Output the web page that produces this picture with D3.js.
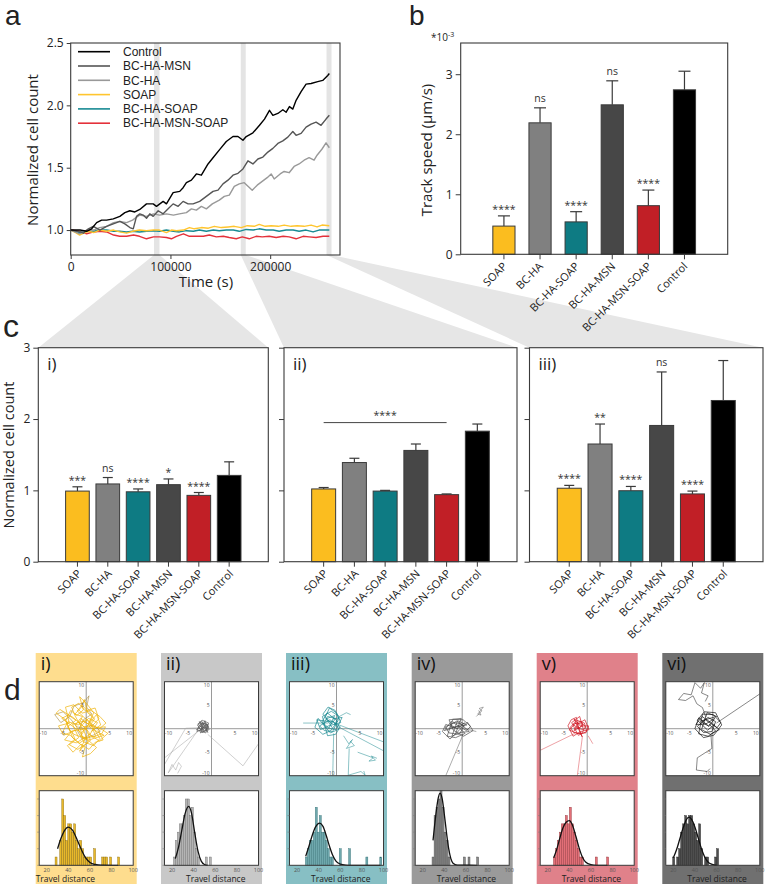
<!DOCTYPE html>
<html>
<head>
<meta charset="utf-8">
<script src="https://cdn.jsdelivr.net/npm/d3@7"></script>
<style>
  body { margin: 0; background: #fff; }
  svg { display: block; }
  text { font-family: "Open Sans", sans-serif; fill: #222; }
</style>
</head>
<body>
<div id="fig"></div>
<script>
// ---------- data ----------
var groups = ["SOAP", "BC-HA", "BC-HA-SOAP", "BC-HA-MSN", "BC-HA-MSN-SOAP", "Control"];
var groupColors = ["#fbbd1f", "#808080", "#0e7b83", "#474747", "#c11f26", "#000000"];

// panel a: normalized cell count over time (s)
var legendNames = ["Control", "BC-HA-MSN", "BC-HA", "SOAP", "BC-HA-SOAP", "BC-HA-MSN-SOAP"];
var legendColors = ["#000000", "#555555", "#999999", "#ffc52e", "#188a93", "#e4313a"];
var controlCount = [[0,1.0],[9300,1.0],[16000,0.99],[21000,1.01],[26000,1.06],[31000,1.08],[36000,1.08],[42700,1.09],[49300,1.11],[54300,1.14],[59300,1.155],[64300,1.145],[69300,1.165],[76000,1.21],[82700,1.21],[86000,1.19],[92700,1.23],[96000,1.21],[102700,1.30],[109300,1.31],[112700,1.34],[116000,1.38],[121000,1.40],[126000,1.45],[131000,1.44],[137700,1.53],[142700,1.58],[149300,1.645],[156000,1.71],[162700,1.75],[167700,1.75],[172700,1.72],[176000,1.75],[182700,1.78],[189300,1.84],[194300,1.89],[199300,1.96],[202700,1.92],[207700,1.935],[212700,1.965],[216000,1.945],[219300,1.99],[222700,1.97],[226000,2.04],[231000,2.11],[236000,2.17],[241000,2.175],[247700,2.19],[252700,2.20],[257700,2.24],[259300,2.255]];
var msnCount = [[0,1.0],[9300,0.985],[12700,0.975],[17700,1.01],[22700,1.03],[29300,1.0],[36000,1.03],[42700,1.05],[49300,1.07],[54300,1.05],[59300,1.02],[62700,1.01],[66000,1.11],[69300,1.13],[72700,1.12],[76000,1.095],[79300,1.13],[82700,1.11],[87700,1.155],[92700,1.13],[97700,1.17],[102700,1.21],[107700,1.19],[112700,1.23],[117700,1.21],[122700,1.21],[129300,1.23],[136000,1.27],[142700,1.31],[147700,1.32],[152700,1.37],[157700,1.40],[162700,1.44],[167700,1.455],[172700,1.49],[177700,1.555],[182700,1.53],[187700,1.57],[192700,1.585],[197700,1.625],[202700,1.655],[207700,1.695],[212700,1.715],[217700,1.745],[222700,1.79],[226000,1.76],[231000,1.775],[236000,1.825],[241000,1.85],[246000,1.865],[251000,1.84],[256000,1.89],[259300,1.92]];
var haCount = [[0,1.0],[9000,0.97],[16000,1.0],[23000,1.0],[29000,1.02],[36000,1.03],[43000,1.06],[49000,1.07],[56000,1.06],[62000,1.08],[69000,1.12],[76000,1.11],[83000,1.13],[89000,1.12],[96000,1.13],[103000,1.12],[109000,1.13],[116000,1.14],[121000,1.17],[126000,1.16],[131000,1.19],[136000,1.17],[142000,1.21],[149000,1.24],[154000,1.27],[159000,1.28],[164000,1.35],[169000,1.37],[174000,1.38],[178000,1.35],[182000,1.32],[187000,1.36],[192000,1.39],[197000,1.42],[201000,1.45],[204000,1.41],[210000,1.45],[214000,1.47],[219000,1.46],[224000,1.51],[229000,1.53],[234000,1.56],[239000,1.58],[244000,1.56],[247000,1.60],[252000,1.65],[256000,1.70],[259300,1.66]];
var soapCount = [[0,1.0],[5000,0.98],[9000,0.96],[13000,0.975],[18000,0.99],[23000,0.98],[29000,1.0],[36000,0.99],[43000,1.0],[49000,0.985],[56000,0.975],[62000,0.99],[69000,1.0],[76000,0.995],[83000,1.0],[89000,1.0],[96000,0.98],[101000,1.0],[106000,0.995],[113000,1.0],[119000,1.02],[124000,1.01],[131000,1.02],[138000,1.015],[144000,1.03],[151000,1.02],[158000,1.025],[164000,1.03],[171000,1.02],[177000,1.035],[184000,1.03],[189000,1.045],[195000,1.03],[201000,1.035],[208000,1.03],[214000,1.04],[221000,1.03],[227000,1.035],[234000,1.03],[241000,1.04],[247000,1.025],[252000,1.04],[259300,1.035]];
var haSoapCount = [[0,1.0],[9000,0.98],[16000,0.99],[23000,0.99],[29000,1.0],[36000,1.0],[43000,0.99],[49000,0.99],[56000,0.985],[62000,0.99],[69000,0.985],[76000,0.99],[83000,0.995],[89000,0.99],[96000,1.0],[103000,0.99],[109000,0.985],[116000,0.995],[123000,0.99],[129000,1.0],[136000,0.99],[143000,1.0],[149000,0.995],[156000,1.0],[163000,1.0],[169000,0.99],[176000,1.005],[183000,1.0],[189000,1.01],[196000,1.0],[203000,1.0],[209000,0.99],[216000,1.0],[223000,1.0],[229000,0.99],[236000,1.0],[243000,0.985],[249000,1.0],[256000,1.0],[259300,1.0]];
var msnSoapCount = [[0,1.0],[9000,0.99],[16000,0.97],[23000,0.985],[29000,0.99],[36000,0.985],[43000,0.96],[49000,0.95],[56000,0.95],[63000,0.96],[69000,0.95],[76000,0.93],[83000,0.945],[89000,0.945],[96000,0.94],[101000,0.93],[106000,0.95],[113000,0.97],[119000,0.95],[126000,0.95],[133000,0.95],[139000,0.96],[146000,0.945],[153000,0.95],[159000,0.94],[166000,0.93],[172000,0.945],[179000,0.93],[186000,0.95],[192000,0.945],[199000,0.95],[206000,0.94],[213000,0.95],[219000,0.945],[226000,0.93],[233000,0.95],[239000,0.945],[246000,0.94],[253000,0.95],[259300,0.95]];
var zoomBands = [[83500, 89000], [170500, 175500], [256500, 261500]];

// panel b: track speed (x 10^-3 um/s)
var speedMean = [0.47, 2.19, 0.54, 2.49, 0.81, 2.74];
var speedErr = [0.17, 0.25, 0.17, 0.40, 0.26, 0.31];
var speedSig = ["****", "ns", "****", "ns", "****", ""];

// panel c: normalized cell count at three time points
var countI = [0.99, 1.09, 0.98, 1.08, 0.93, 1.21];
var errI = [0.06, 0.09, 0.04, 0.08, 0.04, 0.19];
var sigI = ["***", "ns", "****", "*", "****", ""];
var countII = [1.02, 1.39, 0.99, 1.56, 0.94, 1.83];
var errII = [0.02, 0.06, 0.01, 0.09, 0.01, 0.10];
var sigII = ["", "", "", "", "", ""];
var countIII = [1.03, 1.65, 0.995, 1.91, 0.95, 2.26];
var errIII = [0.04, 0.28, 0.06, 0.75, 0.04, 0.56];
var sigIII = ["****", "**", "****", "ns", "****", ""];
var bracketII = { from: 0, to: 4, level: 1.95, label: "****" };
var panelNames = ["i)", "ii)", "iii)", "iv)", "v)", "vi)"];

// panel d: track plots (x, y in um)
var clusterI = [
  [[0,0],[-1.5,1.2],[-0.8,2.6],[-2.4,3.1],[-1.1,4.5],[-0.4,6.2],[0.3,3.4],[1.8,2.1],[0.6,0.4],[2.6,-0.8],[3.8,-1.4],[1.2,-2.2],[-0.5,-3.6],[-1.4,-4.8],[-0.2,-2.1],[-2.6,-1.2],[-4.1,0.3],[-2.2,1.8],[-3.8,2.9],[-5.2,2.2],[-3.0,0.6],[-1.0,-0.9],[0.9,1.4],[2.2,3.0],[3.1,0.8],[1.0,-0.6]],
  [[0,0],[-2.8,2.4],[-5.6,4.1],[-6.4,3.3],[-4.5,2.0],[-3.3,-0.8],[-4.6,-2.4],[-2.1,-3.0],[0.8,-1.2],[2.4,1.3],[0.5,2.2],[-1.3,0.3],[-0.6,-2.8],[1.6,-3.6],[2.9,-2.1],[1.1,0.9],[-1.9,3.8],[-0.9,5.0],[1.4,2.6],[0,0]],
  [[0,0],[1.3,-1.8],[3.3,-1.1],[4.1,0.4],[2.0,0.2],[-0.7,1.6],[-2.9,0.9],[-1.6,-1.9],[-3.6,-3.4],[-1.8,-4.4],[0.4,-3.0],[-0.3,-0.9],[-2.3,2.6],[-3.1,4.6],[-1.6,5.4],[-0.2,3.8],[1.9,4.4],[2.7,2.1],[0.9,0.2]],
  [[0,0],[-1.2,-1.5],[0.6,-2.6],[2.2,-4.0],[0.9,-5.3],[-0.8,-6.0],[-0.3,-4.1],[-2.1,-2.6],[-3.4,-1.4],[-5.1,-0.9],[-3.9,1.5],[-1.7,0.8],[0.2,2.0],[1.5,0.6],[3.4,-0.2],[4.6,-1.0],[2.8,-2.6],[0.3,-1.0]],
  [[0,0],[-3.1,-0.5],[-2.4,-2.2],[-4.0,-3.6],[-2.8,-5.0],[-1.1,-3.3],[0.6,-4.4],[1.9,-2.9],[3.6,-2.4],[2.5,-0.3],[4.2,1.2],[2.9,2.6],[1.0,3.9],[-0.9,3.3],[-2.6,5.1],[-4.4,4.6],[-3.6,1.2],[-5.9,0.6],[-4.8,-1.4],[-2.0,-0.2]],
  [[0,0],[0.9,-2.4],[-0.9,-1.6],[-2.3,0.8],[-1.2,2.2],[0.4,1.0],[1.6,3.4],[0.2,5.2],[-1.4,6.8],[-0.6,4.0],[-2.0,2.8],[-3.3,3.9],[-4.3,1.8],[-2.9,-1.9],[-1.5,-3.1],[0.3,-1.9],[2.0,-1.6],[1.1,0.7],[-0.5,0.4]]
];
var outlierI = [
  [[0,0],[-2.0,0.4],[-3.2,1.9],[-4.9,3.6],[-6.7,3.0],[-5.4,1.3],[-3.5,2.6],[-2.6,4.8],[-0.5,5.6],[0.6,7.0],[0.1,4.6],[1.2,3.1],[-0.6,1.9],[-1.8,-0.6],[-0.9,-2.2],[1.7,-1.3],[3.0,-0.5],[1.4,0.9],[0,0]]
];
var clusterII = [
  [[-1.8,0.2],[-1,0.6],[-2.2,0.9],[-1.6,-0.4],[-2.8,0.2],[-1.3,1.3],[-0.6,0.3],[-1.9,-0.8],[-3.0,0.8],[-2.1,1.6],[-0.9,-0.3],[-1.5,0.4],[-2.6,-0.5],[-1.0,1.0],[-0.5,-0.2],[-1.8,-0.6],[-2.5,1.2],[-0.7,0.9],[-1.2,-0.9],[-3.2,-0.2],[-2.3,0.5],[-1.1,0.2],[-0.6,1.2],[-2.0,1.8],[-2.9,1.0],[-1.7,-0.2]],
  [[-1.8,0.2],[-2.4,-0.9],[-1.3,-0.5],[-0.7,0.6],[-1.9,1.3],[-2.7,0.6],[-3.1,-0.6],[-2.2,-0.2],[-1.4,1.7],[-0.8,-0.8],[-2.6,1.5],[-1.6,0.9]]
];
var outlierII = [
  [[-2.5,-0.3],[-10,-6.2]],
  [[-2.8,0.2],[-5.5,0.1],[-10,-7.6]],
  [[-3,-0.5],[-9.2,-9.4],[-8.4,-7.6],[-7.6,-8.8],[-7.0,-7.2],[-6.4,-8.0],[-7.2,-9.5]],
  [[-0.8,-1.2],[6.7,-7.9],[10,-3.2]]
];
var clusterIII = [
  [[-1,1],[-2.2,2.1],[-0.4,2.8],[-1.6,0.1],[-3.1,1.4],[-2.0,3.4],[0.2,1.6],[-0.8,-0.6],[-2.6,-0.4],[-3.6,0.6],[-1.4,1.9],[0.8,0.4],[-0.2,-1.2],[-1.9,-1.5],[-3.0,2.6],[-1.1,3.7],[0.6,2.6],[-0.5,0.8]],
  [[-1,1],[-0.2,2.2],[-1.9,2.6],[-2.8,0.9],[-1.3,-0.9],[0.5,-0.1],[-0.6,1.5],[-2.3,1.6],[-4.2,1.9],[-3.4,-0.2],[-1.7,0.6],[0.9,1.3],[0.1,3.3],[-1.5,4.4],[-2.4,2.4],[-0.9,0.2]],
  [[-1,1],[-2.9,3.1],[-1.8,4.6],[-0.3,3.9],[0.5,2.0],[-1.2,-0.4],[-2.9,-1.2],[-4.6,0.3],[-3.9,2.2],[-2.2,0.2],[-0.1,-0.2],[1.2,2.4],[-0.8,2.1]]
];
var outlierIII = [
  [[-0.5,1.2],[10,-2.8]],
  [[0.2,0.5],[10,-4.7]],
  [[-1.8,1.2],[-7.1,1.2]],
  [[0.6,2.6],[2.1,3.4],[3.0,3.0]],
  [[1.5,-1.5],[2.6,-3.2],[3.4,-2.3],[2.1,-4.2],[3.8,-3.6],[2.9,-2.6]],
  [[4.5,-5],[7.8,-6.2],[6.9,-6.9],[8.3,-6.7],[7.4,-5.8],[8.6,-6.3]],
  [[-0.6,-1],[-0.8,-10]],
  [[2.7,-4.2],[2.5,-9.9],[5.2,-9.1],[6.1,-9.9],[5.8,-9.0]]
];
var clusterIV = [
  [[-1,0],[-2.5,0.8],[-1.2,1.6],[0.4,0.6],[-0.6,-1.2],[-2.8,-0.9],[-3.6,0.4],[-1.8,1.2],[0.9,-0.4],[1.8,0.5],[0.2,1.9],[-2.0,2.0],[-3.2,-1.6],[-1.4,-1.9],[0.6,-1.0],[-0.9,0.5]],
  [[-1,0],[0.5,1.2],[-1.6,0.3],[-3.8,-0.4],[-2.4,1.5],[-0.3,1.0],[1.5,-0.6],[-0.4,-0.8],[-2.2,-1.6],[-1.0,1.7],[1.0,0.8],[-2.9,0.1]],
  [[-1,0],[-3.5,0.9],[-4.2,-0.6],[-2.6,-2.2],[-0.7,-0.4],[1.1,1.4],[2.3,-0.4],[0.3,-1.6],[-1.9,-0.3],[-2.8,1.9],[-0.2,2.2],[-1.4,-1.0]]
];
var outlierIV = [
  [[3.0,2.6],[4.2,3.8],[3.6,4.3],[4.5,4.6],[3.3,3.1],[4.0,2.9],[3.5,3.9]],
  [[0.2,-1.2],[-3.5,-10]],
  [[0.5,0],[3,-0.6]]
];
var clusterV = [
  [[-1.8,0],[-3.0,0.9],[-1.4,1.6],[-0.4,0.4],[-1.2,-1.1],[-2.9,-0.8],[-3.6,0.3],[-2.2,1.8],[-0.6,1.2],[-0.1,-0.6],[-1.9,-1.4],[-3.3,1.3],[-1.6,2.6],[-0.8,-0.2],[-2.5,0.2]],
  [[-1.8,0],[-0.9,1.0],[-2.6,1.1],[-3.8,-0.3],[-2.1,-1.0],[-0.3,-0.9],[0.3,0.6],[-1.5,0.6],[-2.8,2.1],[-1.1,-1.7],[-2.0,0.7]],
  [[-1.8,0],[-2.3,2.4],[-3.4,1.9],[-4.1,0.6],[-3.0,-1.6],[-1.4,-0.6],[0.4,-0.2],[-0.5,1.9],[-2.0,1.0],[-2.8,-0.4],[-1.0,0.6]]
];
var outlierV = [
  [[-2.6,-1],[-10,-4.6]],
  [[-1,-1.5],[-2.1,-10]],
  [[0.2,-1.5],[1.2,-3.2]]
];
var clusterVI = [
  [[-0.8,0.5],[-2.4,1.4],[-1.0,2.4],[0.6,1.5],[-0.2,-0.6],[-2.0,-0.8],[-3.3,0.5],[-1.6,1.9],[0.9,0.2],[1.7,1.3],[0.1,3.0],[-2.2,3.1],[-3.0,-1.1],[-1.0,-1.6],[0.6,-0.5],[-0.8,1.0]],
  [[-0.8,0.5],[0.4,2.2],[-1.5,1.0],[-3.6,0.9],[-2.3,2.6],[-0.4,1.3],[1.4,-0.2],[-0.5,-1.2],[-2.4,-0.2],[-1.2,3.4],[0.8,2.6],[-2.7,1.6]],
  [[-0.8,0.5],[-3.0,2.3],[-3.8,0.0],[-2.0,-1.9],[0.2,-1.4],[1.9,0.8],[0.6,3.4],[-1.8,3.6],[-3.3,1.8],[-1.1,-0.3],[0.4,0.9]]
];
var outlierVI = [
  [[0.8,1.2],[10,7.4]],
  [[-1.5,2.5],[-2.2,4.5],[-3.4,5.3],[-4.2,7.0],[-5.8,6.0],[-7.3,6.2],[-6.2,7.5],[-4.6,7.2],[-3.8,9.8],[-2.6,8.6],[-1.8,9.8],[-2.4,7.6],[-1.0,7.0],[-1.6,5.8]],
  [[-0.4,-1.2],[-0.2,-4.2],[-3.3,-6.2],[-3.5,-8.8],[-1.2,-9.1],[-0.6,-8.5]]
];

// panel d: travel distance histograms [bin centre, count] and fitted curve [distance, count]
var histI = [[28.6,1],[32.9,3],[34.8,8],[36.6,6],[38.5,3],[40.3,5],[42.2,5],[44,4],[45.8,5],[47.7,3],[49.5,2],[51.4,3],[53.2,2],[55.1,1],[56.9,1],[58.8,1],[60.6,1],[64.3,2],[71.7,1],[73.5,1],[75.4,1],[79.1,1],[86.5,1]];
var histII = [[22.2,1],[24,3],[25.8,4],[27.7,5],[29.5,5],[31.4,6],[33.2,8],[35.1,8],[36.9,6],[38.8,7],[40.6,4],[42.5,2],[44.3,1],[51.7,1],[55.4,1]];
var histIII = [[28.6,1],[30.5,2],[32.3,3],[34.2,3],[36,4],[37.8,7],[39.7,4],[41.5,6],[43.4,4],[45.2,4],[47.1,3],[48.9,2],[50.8,1],[52.6,1],[60,2],[68.6,2],[84.6,1],[97.5,1]];
var histIV = [[29.5,1],[31.4,6],[33.2,7],[35.1,8],[36.9,9],[38.8,7],[40.6,4],[42.5,3],[44.3,1],[58.5,1],[62.8,1],[70.8,1]];
var histV = [[26.2,1],[28,2],[29.8,3],[31.7,4],[33.5,5],[35.4,5],[37.2,6],[39.1,5],[40.9,7],[42.8,5],[44.6,4],[46.5,3],[48.3,2],[50.2,1],[52,1],[64.9,1],[75.4,1]];
var histVI = [[20.3,1],[24,1],[25.8,2],[27.7,4],[29.5,5],[31.4,6],[33.2,5],[35.1,6],[36.9,6],[38.8,5],[40.6,4],[42.5,3],[44.3,5],[46.2,2],[49.8,1],[51.7,1],[59.1,1],[60.9,2]];
var fitI = [[30,2],[33,3.2],[36,4.1],[40,4.6],[44,4.2],[48,3.1],[52,1.9],[56,0.9],[60,0.35],[65,0.1],[70,0.02],[86,0]];
var fitII = [[23,0.8],[26,2.2],[29,4.2],[32,6.2],[35.4,7.1],[38,6.3],[41,3.9],[44,1.7],[47,0.5],[50,0.1],[53,0]];
var fitIII = [[28,1.1],[31,2.3],[34,3.6],[37,4.6],[41,5.1],[44,4.7],[47,3.6],[50,2.3],[53,1.2],[56,0.5],[60,0.15],[65,0.03],[70,0],[97,0]];
var fitIV = [[29.5,3],[32,6],[34,7.9],[36,8.7],[38,8],[40,6.1],[42,3.9],[44,2],[46,0.8],[48,0.25],[52,0.02],[70,0]];
var fitV = [[25.5,0.9],[28,1.8],[31,3.2],[34,4.5],[37,5.2],[40,5.4],[43,4.8],[46,3.5],[49,2.1],[52,1],[55,0.4],[60,0.08],[65,0],[75,0]];
var fitVI = [[20,0.9],[23,1.9],[26,3.2],[29,4.5],[32,5.5],[34.5,5.8],[37,5.5],[40,4.6],[43,3.3],[46,2],[49,1],[52,0.4],[56,0.1],[60,0]];

var colFills = ["#fedd8e", "#c8c8c8", "#87bfc4", "#9a9a9a", "#e0818a", "#707070"];
var trackColors = ["#efb000", "#5c5c5c", "#15878e", "#474747", "#d0121e", "#111111"];
var outlierColors = ["#9c7b26", "#a8a8a8", "#2b9197", "#666666", "#de5058", "#222222"];
var histFills = ["#e8b82a", "#b4b4b4", "#6fa8ad", "#8a8a8a", "#e26f77", "#4e4e4e"];
var histStrokes = ["#8a6c12", "#6a6a6a", "#2e6d72", "#444444", "#8c2a30", "#1e1e1e"];

// ---------- figure ----------
var svg = d3.select("#fig").append("svg")
  .attr("width", 765)
  .attr("height", 886);

var frameColor = "#3a3a3a";

function panelLetter(txt, x, y, size) {
  svg.append("text")
    .attr("x", x).attr("y", y)
    .text(txt)
    .style("font-family", "'Liberation Sans', Arial, sans-serif")
    .style("font-size", size + "px");
}

function styleAxis(g) {
  g.select(".domain").remove();
  g.selectAll(".tick line").attr("stroke", frameColor);
  g.selectAll(".tick text").style("fill", "#222");
}

// ----- panel a -----
var aLeft = 70.7, aRight = 340, aTop = 43, aBottom = 255;
var xA = d3.scaleLinear().domain([0, 270000]).range([aLeft, aRight]);
var yA = d3.scaleLinear().domain([0.8, 2.5]).range([aBottom, aTop]);

// panel c frame positions (needed for zoom wedges)
var cFrames = [[38.3, 268.3], [284, 517], [529.5, 763]];
var cTop = 347.7, cBottom = 561.7;

zoomBands.forEach(function(b, i) {
  var x0 = xA(b[0]), x1 = xA(b[1]);
  svg.append("path")
    .attr("d", "M" + x0 + "," + aBottom + "L" + x1 + "," + aBottom +
      "L" + cFrames[i][1] + "," + cTop + "L" + cFrames[i][0] + "," + cTop + "Z")
    .attr("fill", "#e6e6e6");
  svg.append("rect")
    .attr("x", x0).attr("y", aTop)
    .attr("width", x1 - x0).attr("height", aBottom - aTop)
    .attr("fill", "#e4e4e4");
});

panelLetter("a", 5, 25, 28);

var lineA = d3.line()
  .x(function(d) { return xA(d[0]); })
  .y(function(d) { return yA(d[1]); });

var seriesA = [msnSoapCount, haSoapCount, soapCount, haCount, msnCount, controlCount];
var seriesAColors = ["#e4313a", "#188a93", "#ffc52e", "#999999", "#555555", "#000000"];
seriesA.forEach(function(s, i) {
  svg.append("path")
    .datum(s)
    .attr("d", lineA)
    .attr("fill", "none")
    .attr("stroke", seriesAColors[i])
    .attr("stroke-width", 1.4)
    .attr("stroke-linejoin", "round");
});

svg.append("rect")
  .attr("x", aLeft).attr("y", aTop)
  .attr("width", aRight - aLeft).attr("height", aBottom - aTop)
  .attr("fill", "none").attr("stroke", frameColor).attr("stroke-width", 1.1);

svg.append("g")
  .attr("transform", "translate(" + aLeft + ",0)")
  .call(d3.axisLeft(yA).tickValues([1.0, 1.5, 2.0, 2.5]).tickFormat(d3.format(".1f")).tickSize(4))
  .call(styleAxis)
  .selectAll("text").style("font-size", "12px");

svg.append("g")
  .attr("transform", "translate(0," + aBottom + ")")
  .call(d3.axisBottom(xA).tickValues([0, 100000, 200000]).tickFormat(d3.format("d")).tickSize(4))
  .call(styleAxis)
  .selectAll("text").style("font-size", "12px");

svg.append("text")
  .attr("transform", "translate(38,150) rotate(-90)")
  .attr("text-anchor", "middle")
  .style("font-size", "15px")
  .text("Normalized cell count");

svg.append("text")
  .attr("x", 206).attr("y", 287)
  .attr("text-anchor", "middle")
  .style("font-size", "15px")
  .text("Time (s)");

var legend = svg.append("g");
legendNames.forEach(function(n, i) {
  var y = 51.7 + i * 14.3;
  legend.append("line")
    .attr("x1", 78).attr("x2", 110).attr("y1", y).attr("y2", y)
    .attr("stroke", legendColors[i]).attr("stroke-width", 1.6);
  legend.append("text")
    .attr("x", 123).attr("y", y).attr("dy", "0.35em")
    .style("font-family", "'Liberation Sans', Arial, sans-serif")
    .style("font-size", "12px")
    .text(n);
});

// ----- bar chart helper -----
function barPanel(opts) {
  var x = d3.scaleBand().domain(groups).range([opts.left, opts.right])
    .paddingInner(opts.padIn).paddingOuter(opts.padOut);
  var y = d3.scaleLinear().domain(opts.domain).range([opts.bottom, opts.top]);
  var g = svg.append("g");

  g.selectAll("line.err")
    .data(opts.values)
    .enter().append("line")
    .attr("x1", function(d, i) { return x(groups[i]) + x.bandwidth() / 2; })
    .attr("x2", function(d, i) { return x(groups[i]) + x.bandwidth() / 2; })
    .attr("y1", function(d) { return y(d); })
    .attr("y2", function(d, i) { return y(d + opts.errors[i]); })
    .attr("stroke", "#3a3a3a").attr("stroke-width", 1.2);

  g.selectAll("line.cap")
    .data(opts.values)
    .enter().append("line")
    .attr("x1", function(d, i) { return x(groups[i]) + x.bandwidth() / 2 - opts.cap / 2; })
    .attr("x2", function(d, i) { return x(groups[i]) + x.bandwidth() / 2 + opts.cap / 2; })
    .attr("y1", function(d, i) { return y(d + opts.errors[i]); })
    .attr("y2", function(d, i) { return y(d + opts.errors[i]); })
    .attr("stroke", "#3a3a3a").attr("stroke-width", 1.2);

  g.selectAll("rect.bar")
    .data(opts.values)
    .enter().append("rect")
    .attr("x", function(d, i) { return x(groups[i]); })
    .attr("y", function(d) { return y(d); })
    .attr("width", x.bandwidth())
    .attr("height", function(d) { return y(0) - y(d); })
    .attr("fill", function(d, i) { return groupColors[i]; })
    .attr("stroke", "#3a3a3a").attr("stroke-width", 1);

  g.selectAll("text.sig")
    .data(opts.sig)
    .enter().append("text")
    .attr("x", function(d, i) { return x(groups[i]) + x.bandwidth() / 2; })
    .attr("y", function(d, i) {
      var top = y(opts.values[i] + opts.errors[i]);
      return d === "ns" ? top - 6 : top - 3;
    })
    .attr("text-anchor", "middle")
    .style("font-size", "10.5px")
    .style("fill", "#333")
    .text(function(d) { return d; });

  g.append("rect")
    .attr("x", opts.left).attr("y", opts.top)
    .attr("width", opts.right - opts.left).attr("height", opts.bottom - opts.top)
    .attr("fill", "none").attr("stroke", frameColor).attr("stroke-width", 1.1);

  var ya = g.append("g")
    .attr("transform", "translate(" + opts.left + ",0)")
    .call(d3.axisLeft(y).tickValues(opts.ticks).tickFormat(d3.format("d")).tickSize(5))
    .call(styleAxis);
  ya.selectAll("text").style("font-size", "12px");
  if (!opts.tickLabels) ya.selectAll("text").remove();

  g.append("g")
    .attr("transform", "translate(0," + opts.bottom + ")")
    .call(d3.axisBottom(x).tickSize(5))
    .call(styleAxis)
    .selectAll("text")
    .attr("x", 0).attr("y", 0).attr("dy", "0.35em")
    .attr("transform", "translate(" + opts.labelDx + "," + opts.labelDy + ") rotate(-45)")
    .style("text-anchor", "end")
    .style("font-size", "11px");

  return { x: x, y: y, g: g };
}

// ----- panel b -----
panelLetter("b", 409, 25, 28);
barPanel({
  left: 460.7, right: 727.7, top: 43, bottom: 254.3,
  domain: [0, 3.52], ticks: [0, 1, 2, 3], tickLabels: true,
  padIn: 0.386, padOut: 0.89, cap: 12,
  values: speedMean, errors: speedErr, sig: speedSig,
  labelDx: 1, labelDy: 10
});
svg.append("text")
  .attr("transform", "translate(432,150) rotate(-90)")
  .attr("text-anchor", "middle")
  .style("font-size", "15px")
  .text("Track speed (µm/s)");
var expo = svg.append("text").attr("x", 431).attr("y", 41).style("font-size", "10px");
expo.append("tspan").text("*10");
expo.append("tspan").attr("dy", -4).style("font-size", "7px").text("-3");

// ----- panel c -----
panelLetter("c", 3, 337, 32);
var cData = [
  { values: countI, errors: errI, sig: sigI },
  { values: countII, errors: errII, sig: sigII },
  { values: countIII, errors: errIII, sig: sigIII }
];
cData.forEach(function(c, k) {
  var p = barPanel({
    left: cFrames[k][0], right: cFrames[k][1], top: cTop, bottom: cBottom,
    domain: [0, 3], ticks: [0, 1, 2, 3], tickLabels: k === 0,
    padIn: 0.22, padOut: 0.9, cap: 10,
    values: c.values, errors: c.errors, sig: c.sig,
    labelDx: 2, labelDy: 10
  });
  p.g.append("text")
    .attr("x", cFrames[k][0] + 9).attr("y", cTop + 22)
    .style("font-size", "17px")
    .text(panelNames[k]);
  if (k === 1) {
    var bx0 = p.x(groups[bracketII.from]) + p.x.bandwidth() / 2;
    var bx1 = p.x(groups[bracketII.to]) + p.x.bandwidth() / 2;
    p.g.append("line")
      .attr("x1", bx0).attr("x2", bx1)
      .attr("y1", p.y(bracketII.level)).attr("y2", p.y(bracketII.level))
      .attr("stroke", "#444").attr("stroke-width", 1);
    p.g.append("text")
      .attr("x", (bx0 + bx1) / 2).attr("y", p.y(bracketII.level) - 4)
      .attr("text-anchor", "middle")
      .style("font-size", "10.5px").style("fill", "#333")
      .text(bracketII.label);
  }
});
svg.append("text")
  .attr("transform", "translate(14,455) rotate(-90)")
  .attr("text-anchor", "middle")
  .style("font-size", "14.5px")
  .text("Normalized cell count");

// ----- panel d -----
panelLetter("d", 4, 700, 30);
var colX = [35.7, 161, 286, 411.7, 536.7, 662.3];
var clusters = [clusterI, clusterII, clusterIII, clusterIV, clusterV, clusterVI];
var outliers = [outlierI, outlierII, outlierIII, outlierIV, outlierV, outlierVI];
var hists = [histI, histII, histIII, histIV, histV, histVI];
var fits = [fitI, fitII, fitIII, fitIV, fitV, fitVI];
var defs = svg.append("defs");

colX.forEach(function(cx, i) {
  var g = svg.append("g");
  g.append("rect")
    .attr("x", cx).attr("y", 653)
    .attr("width", 101).attr("height", 231)
    .attr("fill", colFills[i]);
  g.append("text")
    .attr("x", cx + 5).attr("y", 670)
    .style("font-size", "18px")
    .style("fill", "#111")
    .text(panelNames[i]);

  // track plot
  var bx = cx + 3.5, size = 94;
  var xT = d3.scaleLinear().domain([-10, 10]).range([bx, bx + size]);
  var yT = d3.scaleLinear().domain([-10, 10]).range([681.7 + size, 681.7]);
  defs.append("clipPath").attr("id", "clip" + i)
    .append("rect").attr("x", bx).attr("y", 681.7).attr("width", size).attr("height", size);
  g.append("rect")
    .attr("x", bx).attr("y", 681.7).attr("width", size).attr("height", size)
    .attr("fill", "#fff");
  g.append("line")
    .attr("x1", xT(-10)).attr("x2", xT(10)).attr("y1", yT(0)).attr("y2", yT(0))
    .attr("stroke", "#9a9a9a").attr("stroke-width", 1);
  g.append("line")
    .attr("x1", xT(0)).attr("x2", xT(0)).attr("y1", yT(-10)).attr("y2", yT(10))
    .attr("stroke", "#9a9a9a").attr("stroke-width", 1);

  var lineT = d3.line()
    .x(function(d) { return xT(d[0]); })
    .y(function(d) { return yT(d[1]); });
  var tg = g.append("g").attr("clip-path", "url(#clip" + i + ")");
  outliers[i].forEach(function(p) {
    tg.append("path").datum(p).attr("d", lineT)
      .attr("fill", "none").attr("stroke", outlierColors[i])
      .attr("stroke-width", 0.6).attr("opacity", 0.9);
  });
  clusters[i].forEach(function(p) {
    tg.append("path").datum(p).attr("d", lineT)
      .attr("fill", "none").attr("stroke", trackColors[i])
      .attr("stroke-width", 0.8).attr("opacity", 0.85);
  });

  [-10, -5, 5, 10].forEach(function(v) {
    g.append("text")
      .attr("x", xT(v) + (v === -10 ? 4 : v === 10 ? -4 : 0)).attr("y", yT(0) + 6)
      .attr("text-anchor", "middle")
      .style("font-size", "5px").style("fill", "#555")
      .text(v);
    g.append("text")
      .attr("x", xT(0) - 2).attr("y", yT(v) + (v === 10 ? 5 : v === -10 ? -1 : 2))
      .attr("text-anchor", "end")
      .style("font-size", "5px").style("fill", "#555")
      .text(v);
  });
  g.append("rect")
    .attr("x", bx).attr("y", 681.7).attr("width", size).attr("height", size)
    .attr("fill", "none").attr("stroke", frameColor).attr("stroke-width", 1);

  // histogram
  var hTop = 790.7, hBottom = 865.3;
  var xH = d3.scaleLinear().domain([13, 100]).range([bx, bx + size]);
  var yH = d3.scaleLinear().domain([0, 9]).range([hBottom, hTop]);
  g.append("rect")
    .attr("x", bx).attr("y", hTop).attr("width", size).attr("height", hBottom - hTop)
    .attr("fill", "#fff");
  g.selectAll("rect.hbar")
    .data(hists[i])
    .enter().append("rect")
    .attr("x", function(d) { return xH(d[0] - 0.92); })
    .attr("y", function(d) { return yH(d[1]); })
    .attr("width", function(d) { return xH(d[0] + 0.92) - xH(d[0] - 0.92); })
    .attr("height", function(d) { return yH(0) - yH(d[1]); })
    .attr("fill", histFills[i])
    .attr("stroke", histStrokes[i]).attr("stroke-width", 0.4);
  g.append("path")
    .datum(fits[i])
    .attr("d", d3.line()
      .x(function(d) { return xH(d[0]); })
      .y(function(d) { return yH(d[1]); })
      .curve(d3.curveMonotoneX))
    .attr("fill", "none").attr("stroke", "#111").attr("stroke-width", 1.3);
  g.append("rect")
    .attr("x", bx).attr("y", hTop).attr("width", size).attr("height", hBottom - hTop)
    .attr("fill", "none").attr("stroke", frameColor).attr("stroke-width", 1);
  [0, 2, 4, 6, 8].forEach(function(v) {
    g.append("line")
      .attr("x1", bx - 2).attr("x2", bx).attr("y1", yH(v)).attr("y2", yH(v))
      .attr("stroke", "#777").attr("stroke-width", 0.6);
  });
  [20, 40, 60, 80, 100].forEach(function(v) {
    g.append("text")
      .attr("x", xH(v)).attr("y", hBottom + 7)
      .attr("text-anchor", "middle")
      .style("font-size", "5.5px").style("fill", "#555")
      .text(v);
  });
  g.append("text")
    .attr("x", cx + (i === 0 ? 0 : 25)).attr("y", 882)
    .style("font-size", "8.5px").style("fill", "#222")
    .text("Travel distance");
});
</script>
</body>
</html>
